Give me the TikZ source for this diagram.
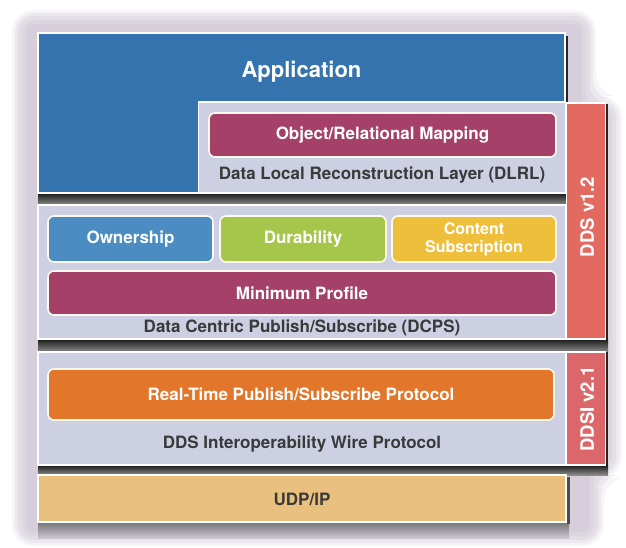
\documentclass[tikz,border=0pt]{standalone}
\usepackage{fontspec}
\setmainfont{TeX Gyre Heros}
\definecolor{appblue}{HTML}{3473AD}
\definecolor{panelc}{HTML}{CDD0E2}
\definecolor{maroon}{HTML}{A54168}
\definecolor{ownblue}{HTML}{4B8DC3}
\definecolor{durgreen}{HTML}{A5C64B}
\definecolor{contyel}{HTML}{EEBF3A}
\definecolor{rtpsor}{HTML}{E2772B}
\definecolor{udptan}{HTML}{E9C07D}
\definecolor{barred}{HTML}{E26A60}
\definecolor{barred2}{HTML}{DB676A}
\definecolor{txtdark}{HTML}{3A3A3A}
\definecolor{shadowc}{HTML}{CFC6D3}
\definecolor{edgec}{HTML}{FFF8EC}
\tikzset{
  panel/.style={draw=white, line width=1.2pt, fill=panelc, inner sep=0pt},
  inbox/.style={draw=edgec, line width=1.6pt, rounded corners=6pt, inner sep=0pt,
     text=white, font=\fontsize{17}{18}\selectfont\bfseries, align=center},
  plabel/.style={text=txtdark, font=\fontsize{17}{18}\selectfont\bfseries, inner sep=0pt},
  sidebar/.style={draw=white, line width=1.2pt, inner sep=0pt},
  sidetext/.style={rotate=90, text=white, font=\fontsize{18.5}{20}\selectfont\bfseries, inner sep=0pt},
  gap/.style={top color=black!90, bottom color=black!45, draw=none}
}
\begin{document}
\begin{tikzpicture}[x=1pt,y=-1pt]
\useasboundingbox (0,0) rectangle (626,548);
% soft background shadow
\foreach \d/\o in {0/0.2,3/0.25,6/0.3,10/0.35,14/0.45}{
  \fill[shadowc, fill opacity=\o, rounded corners={22pt-\d pt}]
    ({12+\d},{10+\d}) -- ({596-\d},{10+\d}) -- ({596-\d},{96+\d}) -- ({622-\d},{96+\d})
    -- ({622-\d},{478-\d}) -- ({604-\d},{478-\d}) -- ({604-\d},{546-\d}) -- ({12+\d},{546-\d}) -- cycle;
}
% dark gaps and edge shadows
\fill[gap] (38,193) rectangle (567,205);
\fill[gap] (38,339) rectangle (608,352);
\fill[gap] (38,465) rectangle (608,475);
\fill[top color=black!55, bottom color=shadowc] (38,522) rectangle (569,538);
\fill[black!85] (565,36) rectangle (568,103);
\fill[black!85] (605,104) rectangle (608,339);
\fill[black!85] (605,352) rectangle (608,465);
\fill[black!70] (567,477) rectangle (570,524);

% Application
\node[panel, fill=appblue, minimum width=527pt, minimum height=160pt] (app) at (301.5,113) {};
\node[text=white, font=\fontsize{22}{24}\selectfont\bfseries, inner sep=0pt] (apptitle) at (301.5,72) {Application};

% DLRL
\node[panel, minimum width=367pt, minimum height=91pt] (dlrl) at (382,147.5) {};
\node[inbox, fill=maroon, minimum width=347pt, minimum height=44pt] (orm) at (382.5,135) {Object/Relational Mapping};
\node[plabel] (dlrllabel) at (382,175) {Data Local Reconstruction Layer (DLRL)};

% DDS v1.2 bar
\node[sidebar, fill=barred, minimum width=39pt, minimum height=236pt] (ddsbar) at (586,221) {};
\node[sidetext] (ddstext) at (587,217) {DDS v1.2};

% DCPS
\node[panel, minimum width=528pt, minimum height=134pt] (dcps) at (302,272) {};
\node[inbox, fill=ownblue, minimum width=165pt, minimum height=46pt] (own) at (130.5,239) {Ownership};
\node[inbox, fill=durgreen, minimum width=166pt, minimum height=46pt] (dur) at (303,239) {Durability};
\node[inbox, fill=contyel, minimum width=164pt, minimum height=46pt,
      font=\fontsize{16}{18}\selectfont\bfseries] (cont) at (474,239) {Content\\Subscription};
\node[inbox, fill=maroon, minimum width=508pt, minimum height=44pt] (minp) at (302,293) {Minimum Profile};
\node[plabel] (dcpslabel) at (302,328) {Data Centric Publish/Subscribe (DCPS)};

% DDSI
\node[panel, minimum width=528pt, minimum height=113pt] (ddsi) at (302,408.5) {};
\node[inbox, fill=rtpsor, minimum width=506pt, minimum height=51pt] (rtps) at (301,394.5) {Real-Time Publish/Subscribe Protocol};
\node[plabel] (ddsilabel) at (302,444) {DDS Interoperability Wire Protocol};
\node[sidebar, fill=barred2, minimum width=39pt, minimum height=113pt] (ddsibar) at (586,408.5) {};
\node[sidetext] (ddsitext) at (587,409) {DDSI v2.1};

% UDP/IP
\node[panel, fill=udptan, minimum width=528pt, minimum height=47pt] (udp) at (302,498.5) {};
\node[plabel] (udptext) at (302,499) {UDP/IP};
\end{tikzpicture}
\end{document}
